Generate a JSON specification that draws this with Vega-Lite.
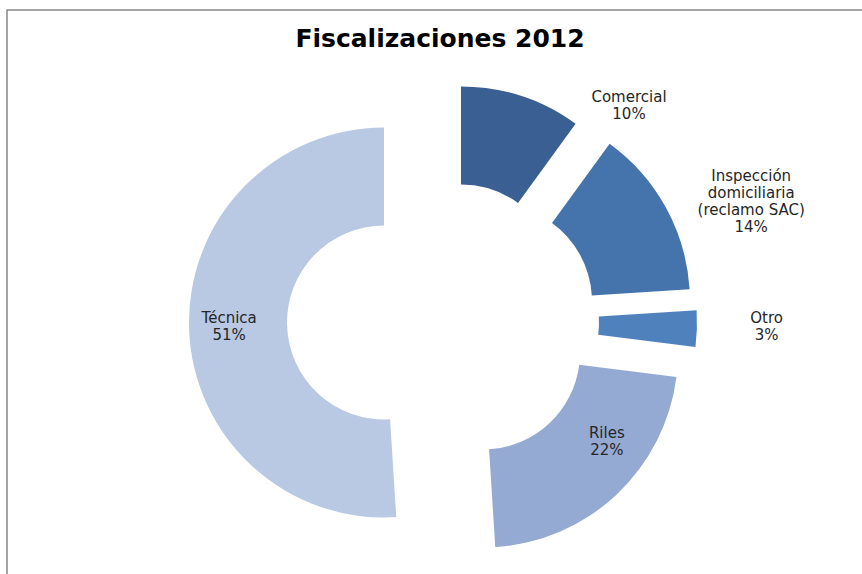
{
  "$schema": "https://vega.github.io/schema/vega-lite/v6.json",
  "width": 858,
  "height": 567,
  "autosize": {"type": "none"},
  "padding": {"left": 7, "top": 10, "right": -3, "bottom": -3},
  "background": "white",
  "view": {"stroke": "#888888", "strokeWidth": 1.5, "fill": "white"},
  "config": {
    "view": {"stroke": "#888888", "strokeWidth": 1.5},
    "style": {"view": {"stroke": "#888888", "strokeWidth": 1.5}}
  },
  "title": {
    "text": "Fiscalizaciones 2012",
    "font": "DejaVu Sans",
    "fontSize": 25,
    "fontWeight": "bold",
    "color": "#000000",
    "anchor": "middle",
    "frame": "group",
    "offset": -24,
    "baseline": "alphabetic",
    "dy": 38,
    "dx": 4
  },
  "data": {
    "values": [
      {"categoria": "Comercial", "valor": 10, "etiqueta": "Comercial\n10%"},
      {"categoria": "Inspección domiciliaria (reclamo SAC)", "valor": 14, "etiqueta": "Inspección\ndomiciliaria\n(reclamo SAC)\n14%"},
      {"categoria": "Otro", "valor": 3, "etiqueta": "Otro\n3%"},
      {"categoria": "Riles", "valor": 22, "etiqueta": "Riles\n22%"},
      {"categoria": "Técnica", "valor": 51, "etiqueta": "Técnica\n51%"}
    ]
  },
  "transform": [
    {"stack": "valor", "groupby": [], "as": ["t0", "t1"]}
  ],
  "encoding": {
    "theta": {"field": "t0", "type": "quantitative", "scale": {"domain": [0, 100]}},
    "theta2": {"field": "t1"},
    "color": {
      "field": "categoria",
      "type": "nominal",
      "legend": null,
      "scale": {
        "domain": ["Comercial", "Inspección domiciliaria (reclamo SAC)", "Otro", "Riles", "Técnica"],
        "range": ["#3a5f92", "#4574ac", "#4f81bd", "#95aad2", "#b9c8e3"]
      }
    }
  },
  "layer": [
    {"transform": [{"filter": "datum.categoria === 'Comercial'"}],
     "mark": {"type": "arc", "outerRadius": 195, "innerRadius": 97, "xOffset": 25, "yOffset": -12}},
    {"transform": [{"filter": "datum.categoria === 'Inspección domiciliaria (reclamo SAC)'"}],
     "mark": {"type": "arc", "outerRadius": 195, "innerRadius": 97, "xOffset": 59, "yOffset": 8}},
    {"transform": [{"filter": "datum.categoria === 'Otro'"}],
     "mark": {"type": "arc", "outerRadius": 195, "innerRadius": 97, "xOffset": 66, "yOffset": 29}},
    {"transform": [{"filter": "datum.categoria === 'Riles'"}],
     "mark": {"type": "arc", "outerRadius": 195, "innerRadius": 97, "xOffset": 47, "yOffset": 59}},
    {"transform": [{"filter": "datum.categoria === 'Técnica'"}],
     "mark": {"type": "arc", "outerRadius": 195, "innerRadius": 97, "xOffset": -52, "yOffset": 29}},
    {"transform": [{"filter": "datum.categoria === 'Comercial'"}],
     "mark": {"type": "text", "radius": 180, "xOffset": 25, "yOffset": -12, "dx": 168, "dy": -5, "font": "DejaVu Sans", "fontSize": 15, "lineBreak": "\n", "lineHeight": 17, "baseline": "middle", "align": "center"},
     "encoding": {"text": {"field": "etiqueta"}, "color": {"value": "#262626"}}},
    {"transform": [{"filter": "datum.categoria === 'Inspección domiciliaria (reclamo SAC)'"}],
     "mark": {"type": "text", "radius": 230, "xOffset": 59, "yOffset": 8, "dx": 121, "dy": 61, "font": "DejaVu Sans", "fontSize": 15, "lineBreak": "\n", "lineHeight": 17, "baseline": "middle", "align": "center"},
     "encoding": {"text": {"field": "etiqueta"}, "color": {"value": "#262626"}}},
    {"transform": [{"filter": "datum.categoria === 'Otro'"}],
     "mark": {"type": "text", "radius": 230, "xOffset": 66, "yOffset": 29, "dx": 35, "dy": 10, "font": "DejaVu Sans", "fontSize": 15, "lineBreak": "\n", "lineHeight": 17, "baseline": "middle", "align": "center"},
     "encoding": {"text": {"field": "etiqueta"}, "color": {"value": "#262626"}}},
    {"transform": [{"filter": "datum.categoria === 'Riles'"}],
     "mark": {"type": "text", "radius": 146, "xOffset": 47, "yOffset": 59, "dx": -21, "dy": 62, "font": "DejaVu Sans", "fontSize": 15, "lineBreak": "\n", "lineHeight": 17, "baseline": "middle", "align": "center"},
     "encoding": {"text": {"field": "etiqueta"}, "color": {"value": "#262626"}}},
    {"transform": [{"filter": "datum.categoria === 'Técnica'"}],
     "mark": {"type": "text", "radius": 146, "xOffset": -52, "yOffset": 29, "dx": -164, "dy": -150, "font": "DejaVu Sans", "fontSize": 15, "lineBreak": "\n", "lineHeight": 17, "baseline": "middle", "align": "center"},
     "encoding": {"text": {"field": "etiqueta"}, "color": {"value": "#262626"}}}
  ]
}
